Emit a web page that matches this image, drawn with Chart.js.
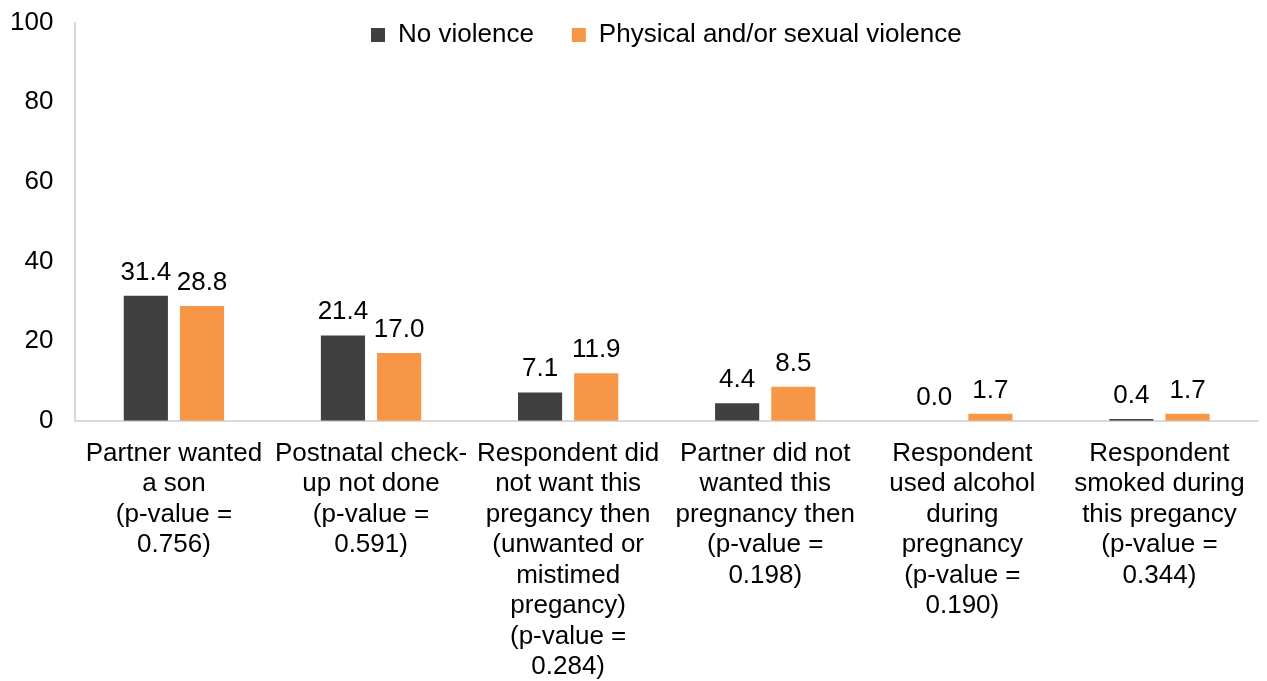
<!DOCTYPE html>
<html>
<head>
<meta charset="utf-8">
<script src="https://cdn.jsdelivr.net/npm/chart.js@4"></script>
<style>
  html, body { margin: 0; padding: 0; background: #fff; }
  #wrap { width: 1267px; height: 681px; position: relative; }
</style>
</head>
<body>
<div id="wrap"><canvas id="c"></canvas></div>
<script>
const categories = [
  ["Partner wanted", "a son", "(p-value =", "0.756)"],
  ["Postnatal check-", "up not done", "(p-value =", "0.591)"],
  ["Respondent did", "not want this", "pregancy then", "(unwanted or", "mistimed", "pregancy)", "(p-value =", "0.284)"],
  ["Partner did not", "wanted this", "pregnancy then", "(p-value =", "0.198)"],
  ["Respondent", "used alcohol", "during", "pregnancy", "(p-value =", "0.190)"],
  ["Respondent", "smoked during", "this pregancy", "(p-value =", "0.344)"]
];
const noViolence = [31.4, 21.4, 7.1, 4.4, 0.0, 0.4];
const physicalSexualViolence = [28.8, 17.0, 11.9, 8.5, 1.7, 1.7];
const seriesNames = ["No violence", "Physical and/or sexual violence"];
const yTicks = [0, 20, 40, 60, 80, 100];

const FONT = "'Liberation Sans', Arial, sans-serif";
const FS = 26;

const valueLabels = {
  id: 'valueLabels',
  afterDatasetsDraw(chart) {
    const ctx = chart.ctx;
    ctx.save();
    ctx.font = FS + 'px ' + FONT;
    ctx.fillStyle = '#000';
    ctx.textAlign = 'center';
    ctx.textBaseline = 'alphabetic';
    chart.data.datasets.forEach((ds, i) => {
      const meta = chart.getDatasetMeta(i);
      meta.data.forEach((bar, j) => {
        ctx.fillText(ds.data[j].toFixed(1), bar.x, bar.y - 16);
      });
    });
    ctx.restore();
  }
};

// Keep the legend out of the layout so it sits over the top of the plot area.
const legendOverlay = {
  id: 'legendOverlay',
  beforeLayout(chart) {
    const lg = chart.legend;
    if (lg && !lg._overlayPatched) {
      const origFit = lg.fit.bind(lg);
      lg.fit = function () { origFit(); this.height = 0; };
      lg._overlayPatched = true;
    }
  },
  afterLayout(chart) {
    const lg = chart.legend;
    if (lg) {
      const pad = lg.options.labels.padding;
      const targetY = 35;   // legend row centre
      const startX = 371;   // first legend swatch
      const top = targetY - pad - FS / 2;
      lg.top = top;
      lg.bottom = top + 120;
      lg.height = 120;
      lg.left = startX - pad;
      lg.right = chart.width + 200;
      lg.width = lg.right - lg.left;
    }
  }
};

new Chart(document.getElementById('c'), {
  type: 'bar',
  data: {
    labels: categories,
    datasets: [
      { label: seriesNames[0], data: noViolence, backgroundColor: '#404040', borderWidth: 0,
        categoryPercentage: 0.57, barPercentage: 0.786 },
      { label: seriesNames[1], data: physicalSexualViolence, backgroundColor: '#F79646', borderWidth: 0,
        categoryPercentage: 0.57, barPercentage: 0.786 }
    ]
  },
  options: {
    responsive: true,
    maintainAspectRatio: false,
    animation: false,
    devicePixelRatio: 1,
    layout: { padding: { left: -12, right: 9, top: -16, bottom: -19 } },
    plugins: {
      legend: {
        position: 'top',
        align: 'start',
        labels: {
          font: { family: FONT, size: FS },
          color: '#000',
          boxWidth: 14,
          boxHeight: 14,
          padding: 38
        }
      },
      tooltip: { enabled: false }
    },
    scales: {
      x: {
        grid: { display: false, drawTicks: false },
        border: { display: true, color: '#d9d9d9', width: 2 },
        ticks: {
          autoSkip: false, maxRotation: 0, minRotation: 0,
          font: { family: FONT, size: FS, lineHeight: 1.17 },
          color: '#000',
          padding: 18
        }
      },
      y: {
        min: 0, max: 100,
        afterBuildTicks(scale) { scale.ticks = yTicks.map(v => ({ value: v })); },
        grid: { display: false, drawTicks: false },
        border: { display: true, color: '#d9d9d9', width: 2 },
        ticks: {
          font: { family: FONT, size: FS, lineHeight: 0.05 },
          color: '#000',
          padding: 22
        }
      }
    }
  },
  plugins: [valueLabels, legendOverlay]
});
</script>
</body>
</html>
